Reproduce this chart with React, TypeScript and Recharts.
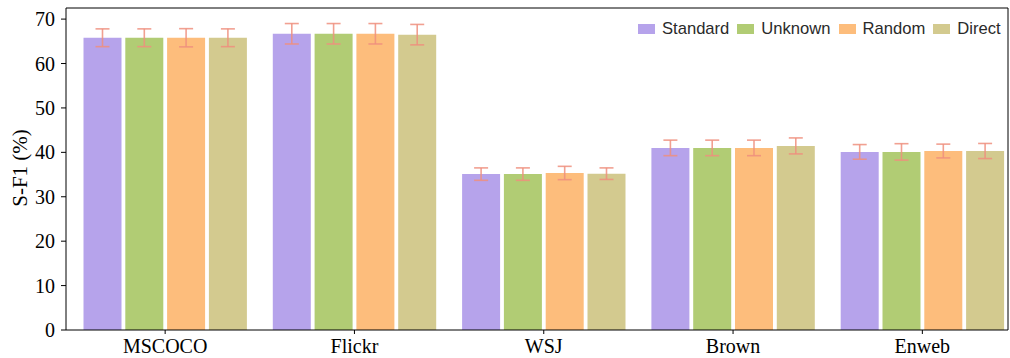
import React from "react";
import {
  BarChart,
  Bar,
  XAxis,
  YAxis,
  ErrorBar,
  Legend,
  Label,
} from "recharts";

// Segmentation F1 per dataset, four prompt settings, with std error bars
const datasets = ["MSCOCO", "Flickr", "WSJ", "Brown", "Enweb"];

const standard = [65.8, 66.7, 35.1, 41.0, 40.1];
const unknown = [65.8, 66.7, 35.1, 41.0, 40.1];
const random = [65.8, 66.7, 35.35, 41.0, 40.3];
const direct = [65.8, 66.5, 35.2, 41.45, 40.3];

const standardErr = [2.0, 2.3, 1.4, 1.75, 1.65];
const unknownErr = [2.0, 2.3, 1.4, 1.75, 1.85];
const randomErr = [2.05, 2.3, 1.5, 1.75, 1.55];
const directErr = [2.0, 2.3, 1.3, 1.8, 1.7];

const yTicks = [0, 10, 20, 30, 40, 50, 60, 70];

const series = [
  { key: "standard", name: "Standard", color: "#b6a3eb" },
  { key: "unknown", name: "Unknown", color: "#b1cc74" },
  { key: "random", name: "Random", color: "#fdbd7c" },
  { key: "direct", name: "Direct", color: "#d3ca8f" },
];

const data = datasets.map((name, i) => ({
  name,
  standard: standard[i],
  unknown: unknown[i],
  random: random[i],
  direct: direct[i],
  standardErr: standardErr[i],
  unknownErr: unknownErr[i],
  randomErr: randomErr[i],
  directErr: directErr[i],
}));

const serif = "'Liberation Serif', 'Times New Roman', serif";
const sans = "'Liberation Sans', Arial, sans-serif";
const errColor = "#ee8f7e";
const yMax = 72.5;

function renderLegend() {
  return (
    <div style={{ display: "flex", alignItems: "center", fontFamily: sans, fontSize: 16.6, color: "#2a2a2a", whiteSpace: "nowrap" }}>
      {series.map((s) => (
        <div key={s.key} style={{ display: "flex", alignItems: "center", marginRight: 8 }}>
          <span style={{ display: "inline-block", width: 17, height: 10, background: s.color, marginRight: 7 }} />
          <span>{s.name}</span>
        </div>
      ))}
    </div>
  );
}

function YLabel(props: any) {
  const vb = props.viewBox || { x: 0, y: 0, width: 0, height: 0 };
  const x = 20;
  const y = vb.y + vb.height / 2 - 1;
  return (
    <text
      x={x}
      y={y}
      transform={`rotate(-90 ${x} ${y})`}
      textAnchor="middle"
      dominantBaseline="central"
      fontFamily={serif}
      fontSize={21}
      fill="#000"
    >
      S-F1 (%)
    </text>
  );
}

export default function App() {
  return (
    <div style={{ position: "absolute", left: 0, top: 0, background: "#fff" }}>
      <BarChart
        width={1010}
        height={358}
        data={data}
        margin={{ top: 7, right: 1, bottom: 0, left: 0 }}
        barSize={38}
        barGap={3.8}
      >
        <XAxis
          dataKey="name"
          padding={{ left: 4.5, right: -9 }}
          height={28}
          axisLine={{ stroke: "#000", strokeWidth: 1 }}
          tickLine={{ stroke: "#000" }}
          tickSize={4}
          tickMargin={5}
          tick={{ fontFamily: serif, fontSize: 20, fill: "#000" }}
          interval={0}
        />
        <XAxis
          xAxisId="top"
          orientation="top"
          dataKey="name"
          height={1}
          tick={false}
          tickLine={false}
          axisLine={{ stroke: "#000", strokeWidth: 1 }}
        />
        <YAxis
          width={66}
          domain={[0, yMax]}
          ticks={yTicks}
          interval={0}
          axisLine={{ stroke: "#000", strokeWidth: 1 }}
          tickLine={{ stroke: "#000" }}
          tickSize={5}
          tickMargin={6}
          tick={{ fontFamily: serif, fontSize: 20, fill: "#000" }}
        >
          <Label content={<YLabel />} />
        </YAxis>
        <YAxis
          yAxisId="right"
          orientation="right"
          width={1}
          domain={[0, yMax]}
          tick={false}
          tickLine={false}
          axisLine={{ stroke: "#000", strokeWidth: 1 }}
        />
        <Legend
          content={renderLegend}
          layout="horizontal"
          verticalAlign="middle"
          align="center"
          wrapperStyle={{ position: "absolute", top: 19, left: 638, width: "auto" }}
        />
        {series.map((s) => (
          <Bar key={s.key} dataKey={s.key} name={s.name} fill={s.color} isAnimationActive={false}>
            <ErrorBar
              dataKey={`${s.key}Err`}
              width={7}
              stroke={errColor}
              strokeWidth={1.6}
              strokeOpacity={0.85}
              direction="y"
            />
          </Bar>
        ))}
      </BarChart>
    </div>
  );
}
